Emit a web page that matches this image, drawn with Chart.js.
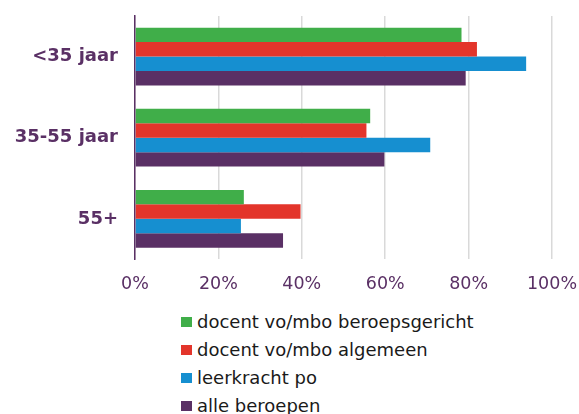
<!DOCTYPE html>
<html>
<head>
<meta charset="utf-8">
<script src="https://cdn.jsdelivr.net/npm/chart.js@4/dist/chart.umd.min.js"></script>
<style>
  html, body { margin: 0; padding: 0; background: #ffffff; }
  #wrap { position: relative; width: 579px; height: 414px; overflow: hidden; }
  #chartBox { position: absolute; left: 0; top: 0; width: 579px; height: 300px; }
  #legend { position: absolute; left: 181px; top: 308px; margin: 0; padding: 0; list-style: none;
            font-family: "DejaVu Sans", Verdana, sans-serif; font-size: 18px; color: #1a1a1a; }
  #legend li { height: 28px; line-height: 28px; white-space: nowrap; display: flex; align-items: center; }
  #legend span.box { display: inline-block; width: 11px; height: 10px; margin-right: 5px; }
</style>
</head>
<body>
<div id="wrap">
  <div id="chartBox"><canvas id="c" width="579" height="300"></canvas></div>
  <ul id="legend"></ul>
</div>
<script>
const categories = ["<35 jaar", "35-55 jaar", "55+"];
const seriesNames = ["docent vo/mbo beroepsgericht", "docent vo/mbo algemeen", "leerkracht po", "alle beroepen"];
const beroepsgericht = [78.3, 56.4, 26.1];
const algemeen = [82.0, 55.5, 39.7];
const leerkrachtPo = [93.8, 70.8, 25.4];
const alleBeroepen = [79.3, 59.8, 35.5];
const xTickLabels = ["0%", "20%", "40%", "60%", "80%", "100%"];

const colors = ["#40AE49", "#E3352B", "#168FD0", "#5A3065"];
const seriesValues = [beroepsgericht, algemeen, leerkrachtPo, alleBeroepen];

const datasets = seriesNames.map((name, i) => ({
  label: name,
  data: seriesValues[i],
  backgroundColor: colors[i],
  borderWidth: 0,
  categoryPercentage: 0.713,
  barPercentage: 1.0
}));

const htmlLegend = {
  id: 'htmlLegend',
  afterUpdate(chart) {
    const ul = document.getElementById('legend');
    ul.innerHTML = '';
    const items = chart.options.plugins.legend.labels.generateLabels(chart);
    items.forEach(item => {
      const li = document.createElement('li');
      const box = document.createElement('span');
      box.className = 'box';
      box.style.background = item.fillStyle;
      const txt = document.createElement('span');
      txt.textContent = item.text;
      li.appendChild(box);
      li.appendChild(txt);
      ul.appendChild(li);
    });
  }
};

new Chart(document.getElementById('c'), {
  type: 'bar',
  data: { labels: categories, datasets },
  options: {
    indexAxis: 'y',
    responsive: false,
    animation: false,
    devicePixelRatio: 1,
    layout: { padding: { top: 16, right: 27, bottom: 4.6, left: 0 } },
    plugins: {
      legend: { display: false },
      tooltip: { enabled: false }
    },
    scales: {
      x: {
        min: 0, max: 100,
        afterFit(scale) { scale.height = 36; scale.paddingLeft = 0; scale.paddingRight = 0; },
        ticks: {
          stepSize: 20,
          padding: 15,
          color: '#5A3065',
          font: { family: '"DejaVu Sans", Verdana, sans-serif', size: 17.5 },
          callback: (v, i) => xTickLabels[i]
        },
        grid: { color: '#D9D9D9', lineWidth: 1.5, drawTicks: false },
        border: { display: false }
      },
      y: {
        afterFit(scale) { scale.width = 135; scale.paddingTop = 0; scale.paddingBottom = 0; },
        ticks: {
          padding: 17,
          color: '#5A3065',
          font: { family: '"DejaVu Sans", Verdana, sans-serif', size: 18, weight: 'bold' }
        },
        grid: { display: false, drawTicks: false },
        border: { display: true, color: '#5A3065', width: 1.5 }
      }
    }
  },
  plugins: [htmlLegend]
});
</script>
</body>
</html>
